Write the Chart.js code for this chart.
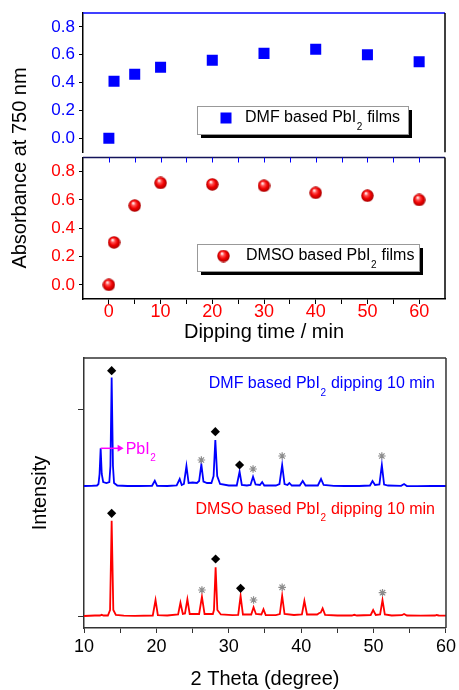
<!DOCTYPE html>
<html>
<head>
<meta charset="utf-8">
<title>PbI2 films: absorbance and XRD</title>
<script src="https://cdn.jsdelivr.net/npm/chart.js@4.4.1/dist/chart.umd.min.js"></script>
<style>
  html, body { margin: 0; padding: 0; background: #fff; }
  #wrap { position: relative; width: 459px; height: 690px; overflow: hidden; font-family: "Liberation Sans", Arial, sans-serif; }
  #wrap canvas { position: absolute; left: 0; }
  #absTitle { position: absolute; left: -111px; top: 158px; width: 260px; height: 20px; line-height: 20px;
              font-size: 20px; text-align: center; color: #000; transform: rotate(-90deg); white-space: nowrap; }
</style>
</head>
<body>
<div id="wrap">
  <canvas id="dmfChart" width="459" height="160" style="top:0"></canvas>
  <canvas id="dmsoChart" width="459" height="200" style="top:150px"></canvas>
  <canvas id="xrdChart" width="459" height="360" style="top:340px"></canvas>
  <div id="absTitle">Absorbance at 750 nm</div>
</div>
<script>
// absorbance at 750 nm vs dipping time
const dipTimes = [0, 1, 5, 10, 20, 30, 40, 50, 60];
const dmfAbs = [0.00, 0.41, 0.46, 0.51, 0.56, 0.61, 0.64, 0.60, 0.55];
const dmsoAbs = [0.00, 0.30, 0.56, 0.72, 0.71, 0.70, 0.65, 0.63, 0.60];
const absTicks = [0, 0.1, 0.2, 0.3, 0.4, 0.5, 0.6, 0.7, 0.8];
const timeTicks = [0, 5, 10, 15, 20, 25, 30, 35, 40, 45, 50, 55, 60];

// XRD patterns (2 theta, intensity) - DMF curve is offset upwards
const dmfXrd = [[10,1300],[11,1302],[11.8,1305],[12.0,1320],[12.15,1420],[12.3,1677],[12.45,1420],[12.65,1340],
  [13.1,1330],[13.5,1340],[13.65,1500],[13.82,2385],[14.0,1500],[14.15,1330],[14.6,1305],[16,1300],[17.5,1300],
  [19.4,1302],[19.78,1353],[20.1,1302],[21.5,1300],[22.8,1305],[23.22,1370],[23.5,1310],[23.8,1320],[24.15,1500],
  [24.45,1330],[25.0,1335],[25.6,1330],[25.9,1350],[26.21,1517],[26.5,1345],[27.0,1330],[27.6,1330],[27.9,1400],
  [28.14,1760],[28.4,1400],[28.8,1320],[30.0,1305],[31.1,1305],[31.49,1443],[31.8,1310],[32.5,1305],[33.0,1310],
  [33.35,1393],[33.7,1315],[34.3,1310],[34.61,1340],[34.9,1305],[36.5,1305],[37.0,1320],[37.37,1510],[37.7,1320],
  [38.1,1310],[38.37,1330],[38.7,1305],[39.8,1305],[40.21,1350],[40.6,1305],[42.3,1305],[42.74,1370],[43.1,1310],
  [44.5,1302],[46,1300],[48,1300],[49.5,1305],[49.85,1350],[50.2,1310],[50.8,1315],[51.14,1510],[51.45,1315],
  [52,1305],[53.8,1302],[54.21,1320],[54.6,1300],[56,1298],[58,1300],[60,1300]];
const dmsoXrd = [[10,0],[11.5,5],[12.2,5],[12.44,12],[12.7,5],[13.3,5],[13.6,60],[13.82,953],[14.05,60],[14.4,10],
  [15.5,3],[17,2],[19.5,5],[19.88,160],[20.2,8],[21.5,5],[23.0,15],[23.32,133],[23.65,20],[23.95,25],[24.28,167],
  [24.6,20],[25.9,20],[26.29,193],[26.65,20],[27.8,20],[27.95,60],[28.18,487],[28.42,60],[28.9,15],[30.5,8],
  [31.3,12],[31.63,200],[31.95,15],[33.1,15],[33.42,87],[33.75,20],[34.5,15],[34.79,67],[35.1,10],[36.5,8],
  [37.05,20],[37.37,203],[37.7,20],[39.0,10],[40.1,15],[40.44,150],[40.8,15],[42.2,15],[42.5,30],[42.7,35],
  [42.96,77],[43.3,12],[45,5],[47.0,5],[47.33,12],[47.7,5],[49.6,10],[49.94,60],[50.3,10],[50.9,15],[51.23,160],
  [51.55,15],[52.5,5],[53.9,8],[54.21,20],[54.6,5],[56.5,3],[58.5,5],[58.7,10],[59,5],[60,3]];
const perovskiteMarks = [[13.82,2453],[28.14,1843],[31.49,1510],[13.82,1027],[28.18,570],[31.63,277]];
const otherMarks = [[26.21,1560],[33.35,1470],[37.37,1600],[51.14,1600],[26.29,260],[33.42,160],[37.37,287],[51.23,233]];
const pbi2Peak = [12.3, 1677];
const thetaTicks = [10, 15, 20, 25, 30, 35, 40, 45, 50, 55, 60];
const intensityTicks = [0, 2060];

const FONT = '"Liberation Sans", Arial, sans-serif';
Chart.defaults.font.family = FONT;
Chart.defaults.color = '#000';
Chart.defaults.animation = false;
Chart.defaults.plugins.legend.display = false;
Chart.defaults.plugins.tooltip.enabled = false;

const BLUE = '#0000ff', RED = '#ff0000';

// shaded red ball used as marker
function makeSphere(d) {
  const c = document.createElement('canvas');
  c.width = d; c.height = d;
  const g = c.getContext('2d'), r = d / 2;
  const grad = g.createRadialGradient(r * 0.75, r * 0.6, r * 0.05, r, r, r);
  grad.addColorStop(0, '#ffffff');
  grad.addColorStop(0.28, '#ff5050');
  grad.addColorStop(0.6, '#f00000');
  grad.addColorStop(1, '#a00000');
  g.fillStyle = grad;
  g.beginPath(); g.arc(r, r, r - 0.3, 0, Math.PI * 2); g.fill();
  return c;
}
const sphere = makeSphere(13);

// text with a subscript part: [main, sub, rest]
function subText(ctx, x, y, parts, color, size, align) {
  ctx.save();
  ctx.fillStyle = color;
  ctx.textBaseline = 'middle';
  ctx.textAlign = 'left';
  const big = size + 'px ' + FONT, small = Math.round(size * 0.6) + 'px ' + FONT;
  ctx.font = big;
  const w1 = ctx.measureText(parts[0]).width, w3 = ctx.measureText(parts[2]).width;
  ctx.font = small;
  const w2 = ctx.measureText(parts[1]).width;
  if (align === 'right') x -= w1 + w2 + w3 + 1;
  ctx.font = big; ctx.fillText(parts[0], x, y);
  ctx.font = small; ctx.fillText(parts[1], x + w1 + 0.5, y + size * 0.55);
  ctx.font = big; ctx.fillText(parts[2], x + w1 + w2 + 1, y);
  ctx.restore();
}

function legendBox(ctx, x, y, w, h) {
  ctx.save();
  ctx.fillStyle = '#000';
  ctx.fillRect(x + 4, y + 4, w, h);
  ctx.fillStyle = '#fff';
  ctx.fillRect(x, y, w, h);
  ctx.strokeStyle = '#999';
  ctx.lineWidth = 1;
  ctx.strokeRect(x + 0.5, y + 0.5, w, h);
  ctx.restore();
}

function line(ctx, x1, y1, x2, y2, color, width) {
  ctx.save();
  ctx.strokeStyle = color; ctx.lineWidth = width;
  ctx.beginPath(); ctx.moveTo(x1, y1); ctx.lineTo(x2, y2); ctx.stroke();
  ctx.restore();
}

const absY = (color) => ({
  min: -0.1, max: 0.9,
  afterBuildTicks: s => { s.ticks = absTicks.map(v => ({ value: v })); },
  // fixed axis width, and no extra room for the end labels
  afterFit: s => { s.width = 83; s.paddingTop = 0; s.paddingBottom = 0; },
  ticks: { color: color, font: { size: 17 }, padding: 4,
    callback: v => (Math.round(v * 10) % 2 === 0 ? v.toFixed(1) : '') },
  grid: { drawOnChartArea: false, tickLength: 4, tickColor: '#000', tickWidth: 1 },
  border: { color: '#000', width: 1.5 }
});

// top panel: DMF
const dmfFrame = {
  id: 'dmfFrame',
  afterDraw(chart) {
    const { ctx, chartArea: a } = chart;
    line(ctx, a.left, a.top, a.right, a.top, BLUE, 1.5);
    line(ctx, a.right, a.top, a.right, a.bottom, '#000', 1.5);
    legendBox(ctx, 197, 106, 211, 28);
    ctx.fillStyle = BLUE;
    ctx.fillRect(220.5, 112.5, 11, 11);
    subText(ctx, 245, 118, ['DMF based PbI', '2', ' films'], '#000', 16);
  }
};

new Chart(document.getElementById('dmfChart'), {
  type: 'scatter',
  data: {
    datasets: [{
      data: dipTimes.map((t, i) => ({ x: t, y: dmfAbs[i] })),
      pointStyle: 'rect', pointRadius: 7.8, backgroundColor: BLUE, borderWidth: 0
    }]
  },
  options: {
    responsive: false, devicePixelRatio: 1, events: [],
    layout: { padding: { left: 0, top: 13, right: 14, bottom: 5 } },
    scales: { x: { display: false, min: -5, max: 65 }, y: absY(BLUE) }
  },
  plugins: [dmfFrame]
});

// middle panel: DMSO
const dmsoFrame = {
  id: 'dmsoFrame',
  afterDraw(chart) {
    const { ctx, chartArea: a } = chart;
    const xs = chart.scales.x;
    line(ctx, a.left, a.top, a.right, a.top, '#14145a', 1.5);
    timeTicks.forEach(t => {
      const px = Math.round(xs.getPixelForValue(t)) + 0.5;
      line(ctx, px, a.top, px, a.top + 5, BLUE, 1);
    });
    line(ctx, a.right, a.top, a.right, a.bottom, '#000', 1.5);
    legendBox(ctx, 197, 94, 222, 27);
    ctx.drawImage(sphere, 223.5 - 6.5, 106 - 6.5);
    subText(ctx, 246, 106, ['DMSO based PbI', '2', ' films'], '#000', 16);
  }
};

new Chart(document.getElementById('dmsoChart'), {
  type: 'scatter',
  data: {
    datasets: [{
      data: dipTimes.map((t, i) => ({ x: t, y: dmsoAbs[i] })),
      pointStyle: sphere, pointRadius: 6.5
    }]
  },
  options: {
    responsive: false, devicePixelRatio: 1, events: [],
    layout: { padding: { left: 0, top: 5, right: 14, bottom: 0 } },
    scales: {
      x: {
        min: -5, max: 65,
        afterBuildTicks: s => { s.ticks = timeTicks.map(v => ({ value: v })); },
        afterFit: s => { s.height = 51; },
        ticks: { color: RED, font: { size: 18 }, padding: -3, maxRotation: 0,
          callback: v => (v % 10 === 0 ? String(v) : '') },
        grid: { drawOnChartArea: false, tickLength: 5, tickColor: '#000', tickWidth: 1 },
        border: { color: '#000', width: 1.5 },
        title: { display: true, text: 'Dipping time / min', font: { size: 20 }, color: '#000',
          padding: { top: 0, bottom: 6 } }
      },
      y: absY(RED)
    }
  },
  plugins: [dmsoFrame]
});

// bottom panel: XRD
const xrdFrame = {
  id: 'xrdFrame',
  afterDraw(chart) {
    const { ctx, chartArea: a } = chart;
    const xs = chart.scales.x, ys = chart.scales.y;
    line(ctx, a.left, a.top, a.right, a.top, '#333', 1.5);
    line(ctx, a.right, a.top, a.right, a.bottom, '#333', 1.5);
    subText(ctx, 435, 44, ['DMF based PbI', '2', ' dipping 10 min'], BLUE, 16, 'right');
    subText(ctx, 435, 169.5, ['DMSO based PbI', '2', ' dipping 10 min'], RED, 16, 'right');
    // arrow pointing from the PbI2 peak to its label
    const x0 = xs.getPixelForValue(pbi2Peak[0]), y0 = ys.getPixelForValue(pbi2Peak[1]);
    const tip = x0 + 23;
    ctx.save();
    line(ctx, x0, y0, tip - 4, y0, '#ff00ff', 1.5);
    ctx.fillStyle = '#ff00ff';
    ctx.beginPath(); ctx.moveTo(tip, y0); ctx.lineTo(tip - 6, y0 - 3.5); ctx.lineTo(tip - 6, y0 + 3.5); ctx.closePath(); ctx.fill();
    ctx.restore();
    subText(ctx, tip + 2, y0 + 1, ['PbI', '2', ''], '#ff00ff', 16);
  }
};

new Chart(document.getElementById('xrdChart'), {
  type: 'scatter',
  data: {
    datasets: [
      { data: perovskiteMarks.map(p => ({ x: p[0], y: p[1] })), pointStyle: 'rectRot', pointRadius: 4.6,
        backgroundColor: '#000', borderWidth: 0 },
      { data: otherMarks.map(p => ({ x: p[0], y: p[1] })), pointStyle: 'star', pointRadius: 3.8,
        borderColor: '#8c8c8c', borderWidth: 1.2, backgroundColor: '#8c8c8c' },
      { data: dmfXrd.map(p => ({ x: p[0], y: p[1] })), showLine: true, pointRadius: 0,
        borderColor: BLUE, borderWidth: 1.8, tension: 0 },
      { data: dmsoXrd.map(p => ({ x: p[0], y: p[1] })), showLine: true, pointRadius: 0,
        borderColor: RED, borderWidth: 1.8, tension: 0 }
    ]
  },
  options: {
    responsive: false, devicePixelRatio: 1, events: [],
    layout: { padding: { left: 0, top: 18, right: 12, bottom: 0 } },
    scales: {
      x: {
        min: 10, max: 60,
        afterBuildTicks: s => { s.ticks = thetaTicks.map(v => ({ value: v })); },
        afterFit: s => { s.height = 72; },
        ticks: { font: { size: 18 }, padding: 3, maxRotation: 0, color: '#000',
          callback: v => (v % 10 === 0 ? String(v) : '') },
        grid: { drawOnChartArea: false, tickLength: 5, tickColor: '#333', tickWidth: 1 },
        border: { color: '#333', width: 1.5 },
        title: { display: true, text: '2 Theta (degree)', font: { size: 20 }, color: '#000',
          padding: { top: 0, bottom: 9 } }
      },
      y: {
        min: -120, max: 2580,
        afterBuildTicks: s => { s.ticks = intensityTicks.map(v => ({ value: v })); },
        afterFit: s => { s.width = 84; },
        ticks: { callback: () => '' },
        grid: { drawOnChartArea: false, tickLength: 6, tickColor: '#333', tickWidth: 1 },
        border: { color: '#333', width: 1.5 },
        title: { display: true, text: 'Intensity', font: { size: 20 }, color: '#000',
          padding: { top: 28, bottom: 0 } }
      }
    }
  },
  plugins: [xrdFrame]
});
</script>
</body>
</html>
